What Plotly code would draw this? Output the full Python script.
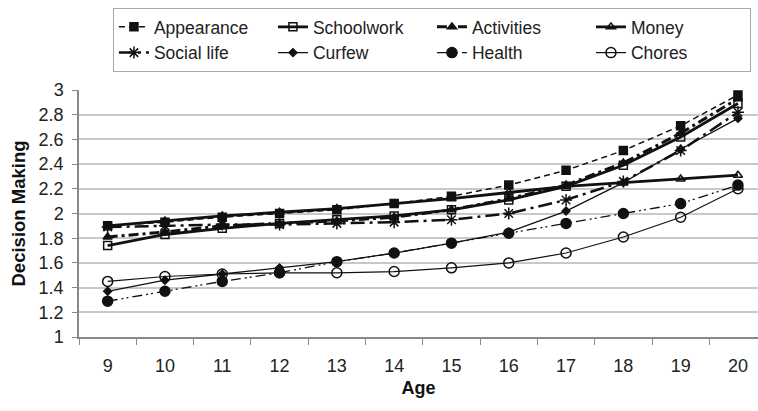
import plotly.graph_objects as go

ages = [9, 10, 11, 12, 13, 14, 15, 16, 17, 18, 19, 20]
appearance = [1.90, 1.93, 1.97, 2.00, 2.03, 2.08, 2.14, 2.23, 2.35, 2.51, 2.71, 2.96]
schoolwork = [1.74, 1.83, 1.88, 1.92, 1.95, 1.98, 2.03, 2.11, 2.22, 2.39, 2.62, 2.89]
activities = [1.81, 1.85, 1.90, 1.92, 1.94, 1.97, 2.03, 2.12, 2.23, 2.41, 2.65, 2.93]
money = [1.90, 1.94, 1.98, 2.01, 2.04, 2.08, 2.12, 2.17, 2.22, 2.25, 2.28, 2.31]
social_life = [1.89, 1.90, 1.91, 1.91, 1.92, 1.93, 1.95, 2.00, 2.11, 2.26, 2.51, 2.82]
curfew = [1.37, 1.46, 1.51, 1.56, 1.61, 1.68, 1.76, 1.85, 2.02, 2.25, 2.52, 2.77]
health = [1.29, 1.37, 1.45, 1.52, 1.61, 1.68, 1.76, 1.84, 1.92, 2.00, 2.08, 2.23]
chores = [1.45, 1.49, 1.51, 1.52, 1.52, 1.53, 1.56, 1.60, 1.68, 1.81, 1.97, 2.20]

series = [
    ("Appearance", appearance, "6px,4px", 1.5, "square", 8),
    ("Schoolwork", schoolwork, "solid", 2.8, "square-open", 8),
    ("Activities", activities, "10px,4px,3px,4px", 3, "triangle-up", 8),
    ("Money", money, "solid", 2.8, "triangle-up-open", 8),
    ("Social life", social_life, "14px,5px,3px,5px", 2.5, "asterisk-open", 10),
    ("Curfew", curfew, "solid", 1.3, "diamond", 6),
    ("Health", health, "10px,4px,2px,3px,2px,4px", 1.3, "circle", 10),
    ("Chores", chores, "solid", 1.2, "circle-open", 10),
]

fig = go.Figure()
for name, vals, dash, lw, sym, ms in series:
    fig.add_trace(go.Scatter(
        x=ages, y=vals, name=name, mode="lines+markers",
        line=dict(color="#111111", width=lw, dash=dash),
        marker=dict(symbol=sym, size=ms, color="#111111",
                    line=dict(color="#111111", width=1.5)),
    ))

fig.update_layout(
    width=758, height=411,
    margin=dict(l=79, r=0, t=90, b=74),
    paper_bgcolor="white", plot_bgcolor="white",
    font=dict(family="Liberation Sans, Arial, sans-serif", size=18, color="#222222"),
    showlegend=True,
    legend=dict(
        orientation="h", x=0.05, xanchor="left", y=1.332, yanchor="top",
        entrywidth=114, entrywidthmode="pixels",
        bordercolor="#aaaaaa", borderwidth=1,
        font=dict(size=17.5, color="#222222"),
        tracegroupgap=0,
    ),
    xaxis=dict(
        range=[8.5, 20.35], tickvals=ages, ticktext=[str(a) for a in ages],
        ticks="", showgrid=False, zeroline=False,
        showline=True, linecolor="#888888", linewidth=1.5,
        minor=dict(tickvals=[a - 0.5 for a in ages], ticks="outside",
                   ticklen=6, tickcolor="#888888", showgrid=False),
        ticklabelstandoff=12,
        title=dict(text="<b>Age</b>", font=dict(size=18, color="#111111"), standoff=6),
        tickfont=dict(size=18),
    ),
    yaxis=dict(
        range=[1, 3], dtick=0.2, tick0=1,
        showgrid=True, gridcolor="#c8c8c8", gridwidth=1.5,
        zeroline=False, showline=True, linecolor="#888888", linewidth=1.5,
        ticks="outside", ticklen=5, tickcolor="#888888",
        ticklabelstandoff=5,
        title=dict(text="<b>Decision Making</b>", font=dict(size=18.5, color="#111111"), standoff=8),
        tickfont=dict(size=18),
    ),
)

fig.write_html("out.html")
